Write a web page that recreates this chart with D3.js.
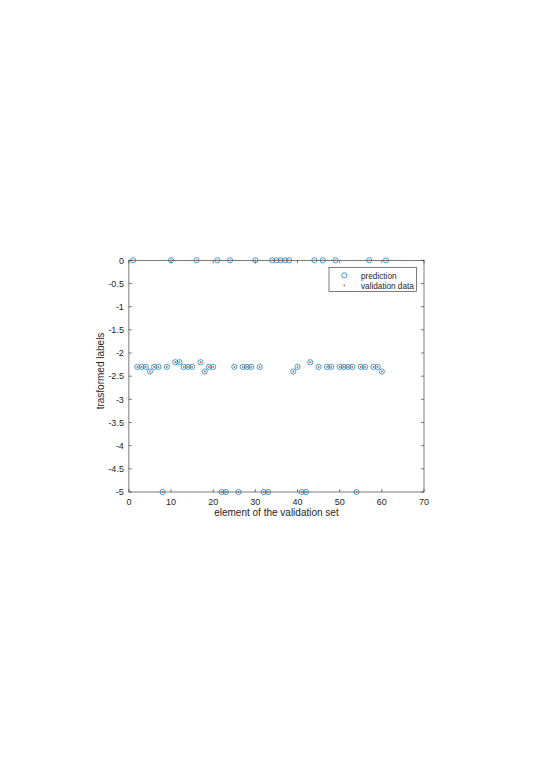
<!DOCTYPE html>
<html>
<head>
<meta charset="utf-8">
<script src="https://cdn.jsdelivr.net/npm/d3@7"></script>
<style>
  body { margin: 0; background: #fff; }
  text { font-family: "Liberation Sans", Arial, sans-serif; fill: #262626; }
</style>
</head>
<body>
<div id="chart"></div>
<script>
// element index of the validation set
var elements = d3.range(1, 62);

// transformed labels predicted by the model
var prediction = [
   0.0, -2.3, -2.3, -2.3, -2.4, -2.3, -2.3, -5.0, -2.3,  0.0,
  -2.2, -2.2, -2.3, -2.3, -2.3,  0.0, -2.2, -2.4, -2.3, -2.3,
   0.0, -5.0, -5.0,  0.0, -2.3, -5.0, -2.3, -2.3, -2.3,  0.0,
  -2.3, -5.0, -5.0,  0.0,  0.0,  0.0,  0.0,  0.0, -2.4, -2.3,
  -5.0, -5.0, -2.2,  0.0, -2.3,  0.0, -2.3, -2.3,  0.0, -2.3,
  -2.3, -2.3, -2.3, -5.0, -2.3, -2.3,  0.0, -2.3, -2.3, -2.4,
   0.0
];

// transformed labels of the validation data
var validation = prediction.slice();

var xTicks = [0, 10, 20, 30, 40, 50, 60, 70];
var yTicks = [0, -0.5, -1, -1.5, -2, -2.5, -3, -3.5, -4, -4.5, -5];

var W = 539, H = 763;
var axL = 128.9, axR = 424, axT = 260.3, axB = 492;

var svg = d3.select("#chart").append("svg").attr("width", W).attr("height", H);

var x = d3.scaleLinear().domain([0, 70]).range([axL, axR]);
var y = d3.scaleLinear().domain([-5, 0]).range([axB, axT]);

var axisColor = "#262626";

// box
svg.append("rect")
  .attr("x", axL).attr("y", axT)
  .attr("width", axR - axL).attr("height", axB - axT)
  .attr("fill", "none").attr("stroke", axisColor).attr("stroke-width", 0.6);

// ticks (inward, on all four sides)
var tl = 3;
xTicks.forEach(function(t) {
  svg.append("line").attr("x1", x(t)).attr("x2", x(t)).attr("y1", axB).attr("y2", axB - tl)
    .attr("stroke", axisColor).attr("stroke-width", 0.6);
  svg.append("line").attr("x1", x(t)).attr("x2", x(t)).attr("y1", axT).attr("y2", axT + tl)
    .attr("stroke", axisColor).attr("stroke-width", 0.6);
});
yTicks.forEach(function(t) {
  svg.append("line").attr("x1", axL).attr("x2", axL + tl).attr("y1", y(t)).attr("y2", y(t))
    .attr("stroke", axisColor).attr("stroke-width", 0.6);
  svg.append("line").attr("x1", axR).attr("x2", axR - tl).attr("y1", y(t)).attr("y2", y(t))
    .attr("stroke", axisColor).attr("stroke-width", 0.6);
});

// tick labels
svg.selectAll(".xt").data(xTicks).enter().append("text")
  .attr("x", function(d) { return x(d); })
  .attr("y", axB + 12.5)
  .attr("text-anchor", "middle")
  .attr("font-size", 9)
  .text(function(d) { return d; });

svg.selectAll(".yt").data(yTicks).enter().append("text")
  .attr("x", axL - 5)
  .attr("y", function(d) { return y(d) + 3.2; })
  .attr("text-anchor", "end")
  .attr("font-size", 9)
  .text(function(d) { return d; });

// axis labels
svg.append("text")
  .attr("x", (axL + axR) / 2).attr("y", 516)
  .attr("text-anchor", "middle").attr("font-size", 10)
  .text("element of the validation set");

svg.append("text")
  .attr("transform", "translate(104,371) rotate(-90)")
  .attr("text-anchor", "middle").attr("font-size", 10)
  .text("trasformed labels");

// prediction markers
svg.selectAll(".pred").data(elements).enter().append("circle")
  .attr("cx", function(d) { return x(d); })
  .attr("cy", function(d, i) { return y(prediction[i]); })
  .attr("r", 2.6)
  .attr("fill", "none")
  .attr("stroke", "#0072BD")
  .attr("stroke-width", 0.7);

// validation markers
svg.selectAll(".val").data(elements).enter().append("circle")
  .attr("cx", function(d) { return x(d); })
  .attr("cy", function(d, i) { return y(validation[i]); })
  .attr("r", 0.9)
  .attr("fill", "#D95319");

// legend
var lg = svg.append("g");
lg.append("rect").attr("x", 329).attr("y", 267.3).attr("width", 87.5).attr("height", 24)
  .attr("fill", "#fff").attr("stroke", axisColor).attr("stroke-width", 0.6);
lg.append("circle").attr("cx", 344.3).attr("cy", 275.3).attr("r", 2.6)
  .attr("fill", "none").attr("stroke", "#0072BD").attr("stroke-width", 0.7);
lg.append("circle").attr("cx", 344.3).attr("cy", 285.3).attr("r", 0.9).attr("fill", "#D95319");
lg.append("text").attr("x", 361).attr("y", 278.5).attr("font-size", 8.2).text("prediction");
lg.append("text").attr("x", 361).attr("y", 288.5).attr("font-size", 8.2).text("validation data");
</script>
</body>
</html>
